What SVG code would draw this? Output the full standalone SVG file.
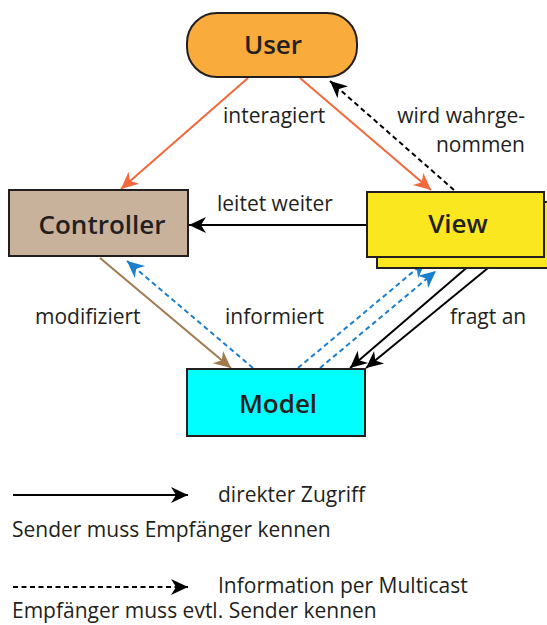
<svg xmlns="http://www.w3.org/2000/svg" width="547" height="625" viewBox="0 0 547 625">
<style>
.lbl{font-family:"Open Sans","Liberation Sans",sans-serif;font-size:21px;fill:#231f20}
.node{font-family:"Open Sans","Liberation Sans",sans-serif;font-size:26px;font-weight:600;fill:#231f20;text-anchor:middle}
.box{stroke:#231f20;stroke-width:2}
.c{fill:none;stroke-width:2}
.dash{stroke-dasharray:5 3.5}
</style>
<defs>
<marker id="mk" viewBox="-18 -9 19 18" markerWidth="19" markerHeight="18" refX="0" refY="0" orient="auto" markerUnits="userSpaceOnUse"><path d="M0,0 L-17,-8 L-12,0 L-17,8 Z" fill="#000"/></marker>
<marker id="mo" viewBox="-18 -9 19 18" markerWidth="19" markerHeight="18" refX="0" refY="0" orient="auto" markerUnits="userSpaceOnUse"><path d="M0,0 L-17,-8 L-12,0 L-17,8 Z" fill="#f4673a"/></marker>
<marker id="mb" viewBox="-18 -9 19 18" markerWidth="19" markerHeight="18" refX="0" refY="0" orient="auto" markerUnits="userSpaceOnUse"><path d="M0,0 L-17,-8 L-12,0 L-17,8 Z" fill="#a07a4f"/></marker>
<marker id="mu" viewBox="-18 -9 19 18" markerWidth="19" markerHeight="18" refX="0" refY="0" orient="auto" markerUnits="userSpaceOnUse"><path d="M0,0 L-17,-8 L-12,0 L-17,8 Z" fill="#1b7fd0"/></marker>
</defs>
<g id="connectors">
<line class="c" x1="248" y1="78" x2="121" y2="189" stroke="#f4673a" marker-end="url(#mo)"/>
<line class="c" x1="300" y1="78" x2="431" y2="190" stroke="#f4673a" marker-end="url(#mo)"/>
<line class="c dash" x1="454" y1="190" x2="330" y2="81" stroke="#000" marker-end="url(#mk)"/>
<line class="c" x1="367" y1="225" x2="189" y2="225" stroke="#000" marker-end="url(#mk)"/>
<line class="c" x1="100" y1="258" x2="231" y2="368" stroke="#a07a4f" marker-end="url(#mb)"/>
<line class="c dash" x1="253" y1="368" x2="127" y2="261" stroke="#1b7fd0" marker-end="url(#mu)"/>
<line class="c dash" x1="298" y1="368" x2="426" y2="261" stroke="#1b7fd0" marker-end="url(#mu)"/>
<line class="c dash" x1="320" y1="368" x2="436" y2="271" stroke="#1b7fd0" marker-end="url(#mu)"/>
<line class="c" x1="478" y1="258" x2="350" y2="368" stroke="#000" marker-end="url(#mk)"/>
<line class="c" x1="488" y1="268" x2="366" y2="368" stroke="#000" marker-end="url(#mk)"/>
</g>
<g id="user"><rect class="box" x="187" y="13" width="170" height="64" rx="30" fill="#f9ab3c"/><text class="node" x="273" y="54">User</text></g>
<g id="controller"><rect class="box" x="9" y="190" width="179" height="66" fill="#c8b29b"/><text class="node" x="102" y="234">Controller</text></g>
<g id="view"><rect class="box" x="377" y="202" width="185" height="66" fill="#fbe71f"/><rect class="box" x="367" y="192" width="177" height="65" fill="#fbe71f"/><text class="node" x="458" y="233">View</text></g>
<g id="model"><rect class="box" x="187" y="369" width="178" height="67" fill="#00ffff"/><text class="node" x="278" y="413">Model</text></g>
<g id="labels">
<text class="lbl" x="223" y="123">interagiert</text>
<text class="lbl" x="525" y="123" text-anchor="end">wird wahrge-</text>
<text class="lbl" x="525" y="152" text-anchor="end">nommen</text>
<text class="lbl" x="217" y="211">leitet weiter</text>
<text class="lbl" x="35" y="324">modifiziert</text>
<text class="lbl" x="225" y="324">informiert</text>
<text class="lbl" x="450" y="324">fragt an</text>
</g>
<g id="legend">
<line class="c" x1="13" y1="495" x2="188" y2="495" stroke="#000" marker-end="url(#mk)"/>
<text class="lbl" x="218" y="502">direkter Zugriff</text>
<text class="lbl" x="12" y="537">Sender muss Empfänger kennen</text>
<line class="c dash" x1="13" y1="587" x2="188" y2="587" stroke="#000" marker-end="url(#mk)"/>
<text class="lbl" x="218" y="593">Information per Multicast</text>
<text class="lbl" x="12" y="618">Empfänger muss evtl. Sender kennen</text>
</g>
</svg>
